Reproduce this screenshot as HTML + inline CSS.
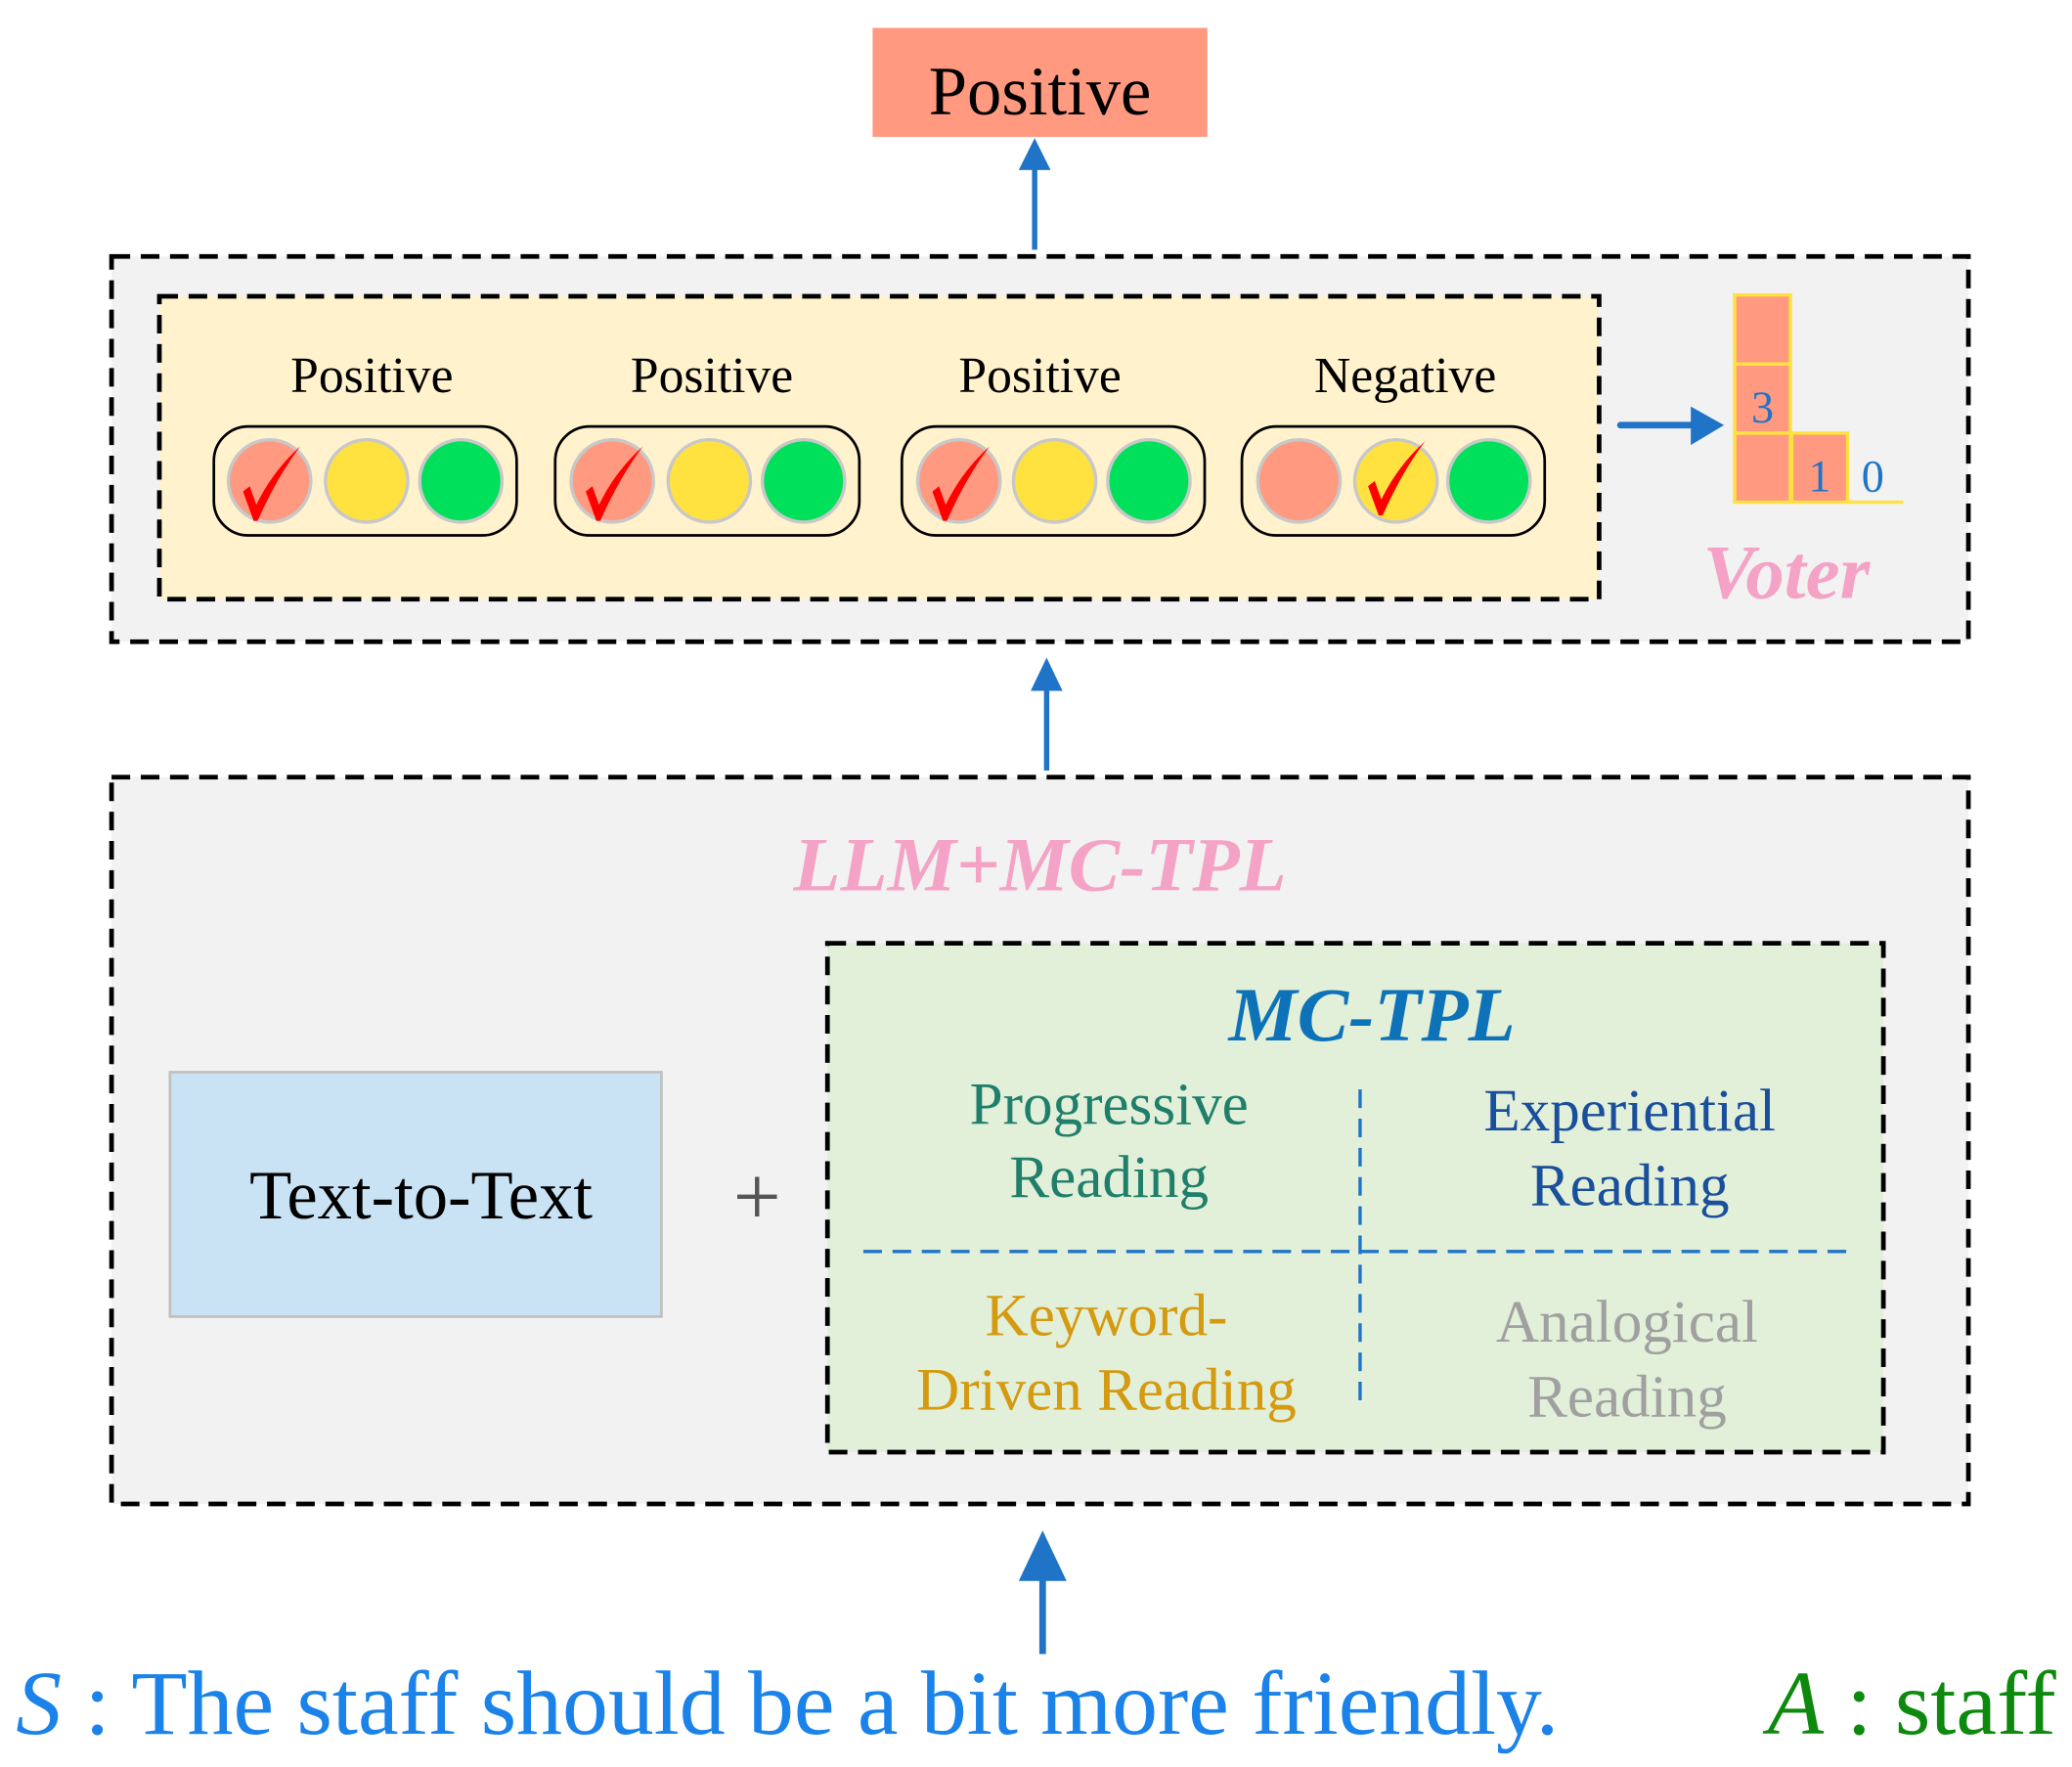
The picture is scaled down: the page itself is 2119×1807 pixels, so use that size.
<!DOCTYPE html>
<html><head><meta charset="utf-8"><style>html,body{margin:0;padding:0;background:#fff}svg{display:block}</style></head>
<body>
<svg width="2119" height="1807" viewBox="0 0 1560 1330" preserveAspectRatio="none" xmlns="http://www.w3.org/2000/svg" font-family="Liberation Serif, serif">
<!-- top positive -->
<rect x="657" y="21" width="252" height="82" fill="#ff9980"/>
<text x="783" y="86" font-size="52" text-anchor="middle">Positive</text>
<line x1="779" y1="188" x2="779" y2="125" stroke="#1f74c8" stroke-width="4"/>
<path d="M779,104 L767,128 L791,128 Z" fill="#1f74c8"/>

<!-- voter box -->
<rect x="84" y="193" width="1398" height="290" fill="#f2f2f2" stroke="#000" stroke-width="3.5" stroke-dasharray="14,8"/>
<rect x="120" y="223" width="1084" height="228" fill="#fff2cc" stroke="#000" stroke-width="3.5" stroke-dasharray="14,8"/>
<g font-size="38" text-anchor="middle">
<text x="280" y="295">Positive</text><text x="536" y="295">Positive</text><text x="783" y="295">Positive</text><text x="1058" y="295">Negative</text>
</g>
<g stroke="#000" stroke-width="2" fill="none">
<rect x="161" y="321" width="228" height="82" rx="26"/>
<rect x="418" y="321" width="229" height="82" rx="26"/>
<rect x="679" y="321" width="228" height="82" rx="26"/>
<rect x="935" y="321" width="228" height="82" rx="26"/>
</g>
<g stroke="#c8c8c8" stroke-width="2.5">
<circle cx="203" cy="362" r="31" fill="#ff9980"/><circle cx="276" cy="362" r="31" fill="#ffe240"/><circle cx="347" cy="362" r="31" fill="#00e05a"/>
<circle cx="461" cy="362" r="31" fill="#ff9980"/><circle cx="534" cy="362" r="31" fill="#ffe240"/><circle cx="605" cy="362" r="31" fill="#00e05a"/>
<circle cx="722" cy="362" r="31" fill="#ff9980"/><circle cx="794" cy="362" r="31" fill="#ffe240"/><circle cx="865" cy="362" r="31" fill="#00e05a"/>
<circle cx="978" cy="362" r="31" fill="#ff9980"/><circle cx="1051" cy="362" r="31" fill="#ffe240"/><circle cx="1121" cy="362" r="31" fill="#00e05a"/>
</g>
<g fill="#ff0000">
<path d="M183,370 L188,366 L193,380 Q205,355 226,336 Q208,360 194,392 L191,392 Z"/>
<path d="M441,370 L446,366 L451,380 Q463,355 484,336 Q466,360 452,392 L449,392 Z"/>
<path d="M702,370 L707,366 L712,380 Q724,355 745,336 Q727,360 713,392 L710,392 Z"/>
<path d="M1030,366 L1035,362 L1040,376 Q1052,351 1073,332 Q1055,356 1041,388 L1038,388 Z"/>
</g>
<line x1="1220" y1="320" x2="1275" y2="320" stroke="#1f74c8" stroke-width="5" stroke-linecap="round"/>
<path d="M1298,320 L1273,306 L1273,335 Z" fill="#1f74c8"/>
<g fill="#ff9980" stroke="#ffe240" stroke-width="2.5">
<rect x="1306" y="222" width="42" height="52"/><rect x="1306" y="274" width="42" height="52"/><rect x="1306" y="326" width="42" height="52"/><rect x="1349" y="326" width="42" height="52"/>
</g>
<line x1="1391" y1="378" x2="1433" y2="378" stroke="#ffe240" stroke-width="2.5"/>
<g font-size="34" fill="#1f74c8" text-anchor="middle"><text x="1327" y="318">3</text><text x="1370" y="370">1</text><text x="1410" y="370">0</text></g>
<text x="1345" y="450" font-size="58" font-weight="bold" font-style="italic" fill="#f4a2c5" text-anchor="middle">Voter</text>

<line x1="788" y1="580" x2="788" y2="515" stroke="#1f74c8" stroke-width="4"/>
<path d="M788,495 L776,520 L800,520 Z" fill="#1f74c8"/>

<!-- lower box -->
<rect x="84" y="585" width="1398" height="547" fill="#f2f2f2" stroke="#000" stroke-width="3.5" stroke-dasharray="14,8"/>
<text x="783" y="670" font-size="58" font-weight="bold" font-style="italic" fill="#f4a2c5" text-anchor="middle">LLM+MC-TPL</text>
<rect x="128" y="807" width="370" height="184" fill="#c9e3f4" stroke="#c0c0c0" stroke-width="2"/>
<text x="317" y="917" font-size="52" text-anchor="middle">Text-to-Text</text>
<text x="570" y="922" font-size="64" fill="#555" text-anchor="middle">+</text>
<rect x="623" y="710" width="795" height="383" fill="#e2efd9" stroke="#000" stroke-width="3.5" stroke-dasharray="14,8"/>
<text x="1033" y="783" font-size="58" font-weight="bold" font-style="italic" fill="#0e72b8" text-anchor="middle">MC-TPL</text>
<g stroke="#1f74c8" stroke-width="2.5" stroke-dasharray="14,8">
<line x1="650" y1="942" x2="1393" y2="942"/><line x1="1024" y1="820" x2="1024" y2="1060"/>
</g>
<g font-size="45" text-anchor="middle">
<text x="835" y="846" fill="#1f7f6b">Progressive</text><text x="835" y="901" fill="#1f7f6b">Reading</text>
<text x="1227" y="851" fill="#1a4f9c">Experiential</text><text x="1227" y="907" fill="#1a4f9c">Reading</text>
<text x="833" y="1005" fill="#d49a10">Keyword-</text><text x="833" y="1061" fill="#d49a10">Driven Reading</text>
<text x="1225" y="1010" fill="#a0a0a0">Analogical</text><text x="1225" y="1066" fill="#a0a0a0">Reading</text>
</g>

<line x1="785" y1="1245" x2="785" y2="1180" stroke="#1f74c8" stroke-width="5"/>
<path d="M785,1152 L767,1190 L803,1190 Z" fill="#1f74c8"/>

<text x="12" y="1305" font-size="69" fill="#1a82e8"><tspan font-style="italic">S</tspan> : The staff should be a bit more friendly.</text>
<text x="1548" y="1305" font-size="69" fill="#0d8a0d" text-anchor="end"><tspan font-style="italic">A</tspan> : staff</text>
</svg>
</body></html>
